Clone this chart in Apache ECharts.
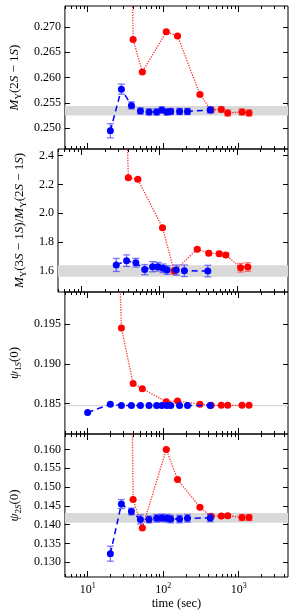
<!DOCTYPE html>
<html><head><meta charset="utf-8">
<script src="https://cdn.jsdelivr.net/npm/echarts@6/dist/echarts.min.js"></script>
<style>html,body{margin:0;padding:0;background:#fff}#c{width:297px;height:616px}</style>
</head><body><div id="c"></div>
<script>
// ---------- data ----------
const blueTimes = [10, 20, 28, 38, 50, 65, 82, 96, 112, 126, 165, 210, 420];
const redTimes  = [20, 28, 40, 53, 110, 155, 307, 432, 589, 716, 1107, 1371];

// Panel 1: M_Upsilon(2S-1S)
const p1Blue    = [null, 0.2495, 0.2577, 0.2545, 0.2534, 0.2532, 0.2532, 0.2536, 0.2532, 0.2533, 0.2533, 0.2533, 0.2536];
const p1BlueErr = [null, 0.0014, 0.0010, 0.0007, 0.0006, 0.0006, 0.0006, 0.0006, 0.0006, 0.0006, 0.0006, 0.0006, 0.0006];
const p1Red     = [0.60, 0.46, 0.2675, 0.2611, 0.2690, 0.2682, 0.25665, 0.2536, 0.2537, 0.2530, 0.2532, 0.2530];
const p1RedErr  = [0, 0, 0.0002, 0.0002, 0.0002, 0.0002, 0.0003, 0.0005, 0.0005, 0.0006, 0.0006, 0.0006];
const p1Band    = [0.2525, 0.2544];
const p1Ticks   = [0.250, 0.255, 0.260, 0.265, 0.270];

// Panel 2: ratio
const p2Blue    = [null, null, 1.642, 1.672, 1.658, 1.610, 1.630, 1.630, 1.619, 1.607, 1.607, 1.602, 1.600];
const p2BlueErr = [null, null, 0.045, 0.040, 0.030, 0.035, 0.035, 0.030, 0.030, 0.030, 0.035, 0.040, 0.040];
const p2Red     = [8.0, 5.6, 2.246, 2.235, 1.900, 1.600, 1.751, 1.723, 1.720, 1.711, 1.623, 1.628];
const p2RedErr  = [0, 0, 0.010, 0.010, 0.010, 0.020, 0.010, 0.015, 0.015, 0.015, 0.030, 0.030];
const p2Band    = [1.56, 1.64];
const p2Ticks   = [1.6, 1.8, 2.0, 2.2, 2.4];

// Panel 3: psi_1S(0)
const p3Blue    = [0.1839, 0.18493, 0.18478, 0.18478, 0.18478, 0.18478, 0.18478, 0.18478, 0.18478, 0.18478, 0.18478, 0.18478, 0.18478];
const p3BlueErr = [0, 0, 0, 0, 0, 0, 0, 0, 0, 0, 0, 0, 0];
const p3Red     = [0.2395, 0.1945, 0.18754, 0.18688, 0.18525, 0.18534, 0.18493, 0.1848, 0.1848, 0.1848, 0.1848, 0.1848];
const p3RedErr  = [0, 0, 0, 0, 0, 0, 0, 0, 0, 0, 0, 0];
const p3Band    = [0.18467, 0.18482];
const p3Ticks   = [0.185, 0.190, 0.195];

// Panel 4: psi_2S(0)
const p4Blue    = [null, 0.1323, 0.1455, 0.1435, 0.1414, 0.1414, 0.1417, 0.1418, 0.1417, 0.1415, 0.1415, 0.1417, 0.1418];
const p4BlueErr = [null, 0.0020, 0.0012, 0.0009, 0.0012, 0.0009, 0.0010, 0.0010, 0.0010, 0.0010, 0.0010, 0.0010, 0.0010];
const p4Red     = [0.60, 0.443, 0.14667, 0.13912, 0.1600, 0.15204, 0.14465, 0.14223, 0.1423, 0.1424, 0.1419, 0.1419];
const p4RedErr  = [0, 0, 0.0002, 0.0002, 0.0002, 0.0002, 0.0002, 0.0004, 0.0004, 0.0004, 0.0008, 0.0008];
const p4Band    = [0.1405, 0.1431];
const p4Ticks   = [0.130, 0.135, 0.140, 0.145, 0.150, 0.155, 0.160];

const xMajorTicks = [10, 100, 1000];
const xMinorTicks = [5, 6, 7, 8, 9, 20, 30, 40, 50, 60, 70, 80, 90, 200, 300, 400, 500, 600, 700, 800, 900, 2000, 3000, 4000];
const xLabel = 'time (sec)';

// ---------- layout / style ----------
const FONT = 'Liberation Serif, DejaVu Serif, serif';
const XMIN = 5, XMAX = 4500;
const panels = [
  {top: 6,   height: 143, ymin: 0.2459, ymax: 0.2741, ticks: p1Ticks, dec: 3, blue: p1Blue, blueErr: p1BlueErr, red: p1Red, redErr: p1RedErr, band: p1Band, gap: 37,
   name: '{i|M}{s|Υ}{n|(2}{i|S}{n| − 1}{i|S}{n|)}'},
  {top: 149, height: 143, ymin: 1.455, ymax: 2.445, ticks: p2Ticks, dec: 1, blue: p2Blue, blueErr: p2BlueErr, red: p2Red, redErr: p2RedErr, band: p2Band, gap: 25,
   name: '{i|M}{s|Υ}{n|(3}{i|S}{n| − 1}{i|S}{n|)/}{i|M}{s|Υ}{n|(2}{i|S}{n| − 1}{i|S}{n|)}'},
  {top: 292, height: 142, ymin: 0.1812, ymax: 0.1990, ticks: p3Ticks, dec: 3, blue: p3Blue, blueErr: p3BlueErr, red: p3Red, redErr: p3RedErr, band: p3Band, gap: 38,
   name: '{i|ψ}{s|1}{si|S}{n|(0)}'},
  {top: 434, height: 143, ymin: 0.1261, ymax: 0.1641, ticks: p4Ticks, dec: 3, blue: p4Blue, blueErr: p4BlueErr, red: p4Red, redErr: p4RedErr, band: p4Band, gap: 37,
   name: '{i|ψ}{s|2}{si|S}{n|(0)}'}
];

const nameRich = {
  n:  {fontFamily: FONT, fontSize: 13, color: '#000', lineHeight: 17, verticalAlign: 'middle'},
  i:  {fontFamily: FONT, fontSize: 13, color: '#000', fontStyle: 'italic', lineHeight: 17, verticalAlign: 'middle'},
  s:  {fontFamily: FONT, fontSize: 9, color: '#000', lineHeight: 9, verticalAlign: 'bottom'},
  si: {fontFamily: FONT, fontSize: 9, color: '#000', fontStyle: 'italic', lineHeight: 9, verticalAlign: 'bottom'}
};

const grid = [], xAxis = [], yAxis = [], series = [];
const L10 = v => Math.log10(v);

function errRender(color) {
  return function (params, api) {
    const x = api.value(0), y = api.value(1), e = api.value(2);
    const lo = api.coord([x, y - e]), hi = api.coord([x, y + e]);
    const w = 3.5;
    const style = {stroke: color, lineWidth: 1.3, fill: null};
    return {type: 'group', children: [
      {type: 'line', shape: {x1: lo[0], y1: lo[1], x2: hi[0], y2: hi[1]}, style: style},
      {type: 'line', shape: {x1: lo[0] - w, y1: lo[1], x2: lo[0] + w, y2: lo[1]}, style: style},
      {type: 'line', shape: {x1: hi[0] - w, y1: hi[1], x2: hi[0] + w, y2: hi[1]}, style: style}
    ]};
  };
}
function bandRender(params, api) {
  const cs = params.coordSys;
  const yHi = api.coord([10, api.value(2)])[1];
  const yLo = api.coord([10, api.value(1)])[1];
  return {type: 'rect', shape: {x: cs.x, y: yHi, width: cs.width, height: Math.max(yLo - yHi, 1)},
          style: {fill: '#d9d9d9'}};
}
function pairs(times, vals) {
  const out = [];
  times.forEach((t, k) => { if (vals[k] !== null && vals[k] !== undefined) out.push([t, vals[k]]); });
  return out;
}
function triples(times, vals, errs) {
  const out = [];
  times.forEach((t, k) => { if (vals[k] !== null && errs[k]) out.push([t, vals[k], errs[k]]); });
  return out;
}

panels.forEach((p, gi) => {
  const last = gi === panels.length - 1;
  grid.push({left: 58, width: 230, top: p.top, height: p.height, show: true, borderColor: '#000', borderWidth: 1, backgroundColor: 'transparent'});
  // data axis (log)
  xAxis.push({type: 'log', logBase: 10, gridIndex: gi, min: XMIN, max: XMAX, show: false});
  // tick axes in log10 space
  const tickAx = (pos, major, withLabel) => ({
    type: 'value', gridIndex: gi, position: pos, min: L10(XMIN), max: L10(XMAX),
    axisLine: {show: false}, splitLine: {show: false},
    axisTick: {show: true, inside: true, length: major ? 6 : 3, lineStyle: {color: '#000', width: 1},
               customValues: (major ? xMajorTicks : xMinorTicks).map(L10)},
    axisLabel: withLabel ? {show: true, margin: 5, customValues: xMajorTicks.map(L10),
        formatter: v => '{b|10}{p|' + Math.round(v) + '}',
        rich: {b: {fontFamily: FONT, fontSize: 12, color: '#000', lineHeight: 16, verticalAlign: 'middle'},
               p: {fontFamily: FONT, fontSize: 8, color: '#000', lineHeight: 8, verticalAlign: 'top'}}}
      : {show: false},
    name: withLabel ? xLabel : '', nameLocation: 'middle', nameGap: 20,
    nameTextStyle: {fontFamily: FONT, fontSize: 12.5, color: '#000'}
  });
  xAxis.push(tickAx('bottom', true, last));
  xAxis.push(tickAx('bottom', false, false));
  xAxis.push(tickAx('top', true, false));
  xAxis.push(tickAx('top', false, false));
  // y axes
  yAxis.push({type: 'value', gridIndex: gi, position: 'left', min: p.ymin, max: p.ymax,
    axisLine: {show: false}, splitLine: {show: false},
    axisTick: {show: true, inside: true, length: 5, lineStyle: {color: '#000'}, customValues: p.ticks},
    axisLabel: {show: true, margin: 4, customValues: p.ticks, formatter: v => v.toFixed(p.dec),
                fontFamily: FONT, fontSize: 12, color: '#000'},
    name: p.name, nameLocation: 'middle', nameRotate: 90, nameGap: p.gap,
    nameTextStyle: {rich: nameRich, fontFamily: FONT, fontSize: 13, color: '#000'}});
  yAxis.push({type: 'value', gridIndex: gi, position: 'right', min: p.ymin, max: p.ymax,
    axisLine: {show: false}, splitLine: {show: false},
    axisTick: {show: true, inside: true, length: 5, lineStyle: {color: '#000'}, customValues: p.ticks},
    axisLabel: {show: false}});

  const xi = gi * 5, yi = gi * 2;
  series.push({type: 'custom', xAxisIndex: xi, yAxisIndex: yi, renderItem: bandRender, data: [[10, p.band[0], p.band[1]]], z: 1, silent: true});
  series.push({type: 'custom', xAxisIndex: xi, yAxisIndex: yi, renderItem: errRender('rgba(255,40,40,0.55)'),
               data: triples(redTimes, p.red, p.redErr), z: 2, clip: true, silent: true});
  series.push({type: 'line', xAxisIndex: xi, yAxisIndex: yi, data: pairs(redTimes, p.red), clip: true,
               symbol: 'circle', symbolSize: 7, showSymbol: true, showAllSymbol: true,
               itemStyle: {color: '#ff0000'}, lineStyle: {color: 'rgba(255,0,0,0.8)', type: 'dotted', width: 1.3}, z: 3, silent: true});
  series.push({type: 'custom', xAxisIndex: xi, yAxisIndex: yi, renderItem: errRender('rgba(40,40,255,0.6)'),
               data: triples(blueTimes, p.blue, p.blueErr), z: 4, clip: true, silent: true});
  series.push({type: 'line', xAxisIndex: xi, yAxisIndex: yi, data: pairs(blueTimes, p.blue), clip: true,
               symbol: 'circle', symbolSize: 7, showSymbol: true, showAllSymbol: true,
               itemStyle: {color: '#0000ff'}, lineStyle: {color: '#0000ff', type: [6, 4], width: 1.5}, z: 5, silent: true});
});

const chart = echarts.init(document.getElementById('c'), null, {renderer: 'canvas'});
chart.setOption({animation: false, backgroundColor: '#fff', grid, xAxis, yAxis, series});
</script>
</body></html>
